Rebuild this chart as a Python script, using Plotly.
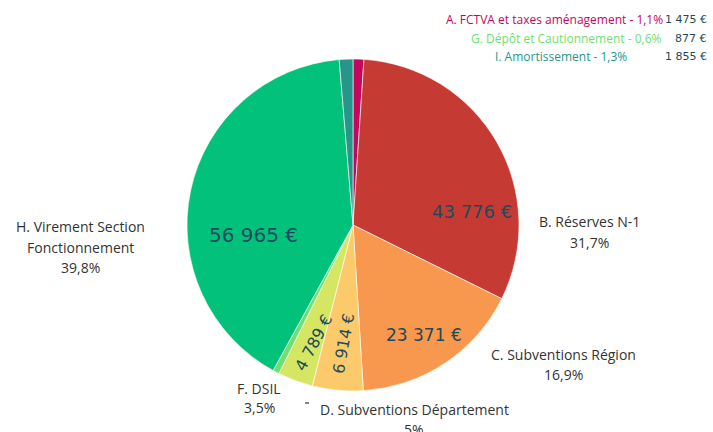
import plotly.graph_objects as go

# ---- data ----
labels = ["A. FCTVA et taxes aménagement", "B. Réserves N-1", "C. Subventions Région",
          "D. Subventions Département", "F. DSIL", "G. Dépôt et Cautionnement",
          "H. Virement Section Fonctionnement", "I. Amortissement"]
values = [1475, 43776, 23371, 6914, 4789, 877, 56965, 1855]
pct_labels = ["1,1%", "31,7%", "16,9%", "5%", "3,5%", "0,6%", "39,8%", "1,3%"]

# ---- styles ----
colors = ["#c2075e", "#c63a34", "#f7984e", "#fdca6b", "#d4e662", "#6fe070", "#02c27b", "#27968a"]
value_color = "#1d4a5c"
label_color = "#333333"
W, H = 713, 432


def fmt(v):
    s = f"{v:,}".replace(",", " ")
    return s + " €"


cx, cy, r = 353, 225, 166
fig = go.Figure(go.Pie(
    labels=labels, values=values, sort=False, direction="clockwise", rotation=0,
    marker=dict(colors=colors, line=dict(color="rgba(255,255,255,0.6)", width=1)),
    textinfo="none", hoverinfo="label+value", showlegend=False,
    domain=dict(x=[(cx - r) / W, (cx + r) / W], y=[(H - cy - r) / H, (H - cy + r) / H]),
))

ann = []


def add(text, px, py, size, color, family="Open Sans", xanchor="center", angle=0):
    ann.append(dict(text=text, x=px / W, y=1 - py / H, xref="paper", yref="paper",
                    xanchor=xanchor, yanchor="middle", showarrow=False, textangle=angle,
                    font=dict(family=family, size=size, color=color)))


# outside labels (label lines + percent) for the large slices
outside = {
    1: (589, [221, 242], ["B. Réserves N-1"]),
    2: (563, [354, 374], ["C. Subventions Région"]),
    3: (414, [409, 429], ["D. Subventions Département"]),
    4: (259, [388, 407], ["F. DSIL"]),
    6: (80, [226, 247, 267], ["H. Virement Section", "Fonctionnement"]),
}
for i, (px, ys, lines) in outside.items():
    for line, py in zip(lines + [pct_labels[i]], ys):
        add(line, px, py, 14, label_color)

# top-right block for the small slices
small = {0: (444, 20), 5: (469, 38), 7: (493, 56)}
for i, (px, py) in small.items():
    add(f"{labels[i]} - {pct_labels[i]}", px, py, 12, colors[i], xanchor="left")
    add(fmt(values[i]), 709, py, 11, value_color, family="DejaVu Sans", xanchor="right")

# inside value labels
inside = {
    6: (253, 235, 20, 0),
    1: (472, 212, 18, 0),
    2: (424, 335, 17, 0),
    3: (343, 344, 16, -80),
    4: (313, 343, 16, -62),
}
for i, (px, py, sz, ang) in inside.items():
    add(fmt(values[i]), px, py, sz, value_color, family="DejaVu Sans", angle=ang)

fig.update_layout(
    width=W, height=H, margin=dict(l=0, r=0, t=0, b=0),
    paper_bgcolor="white", plot_bgcolor="white",
    annotations=ann,
    shapes=[dict(type="line", xref="paper", yref="paper",
                 x0=305 / W, x1=309 / W, y0=1 - 403 / H, y1=1 - 403 / H,
                 line=dict(color=label_color, width=1.2))],
)

fig.write_html(
    "out.html",
    config={"displayModeBar": False},
    post_script=("document.body.style.margin='0';"
                 "document.body.style.overflow='hidden';"
                 "document.documentElement.style.overflow='hidden';"),
)
